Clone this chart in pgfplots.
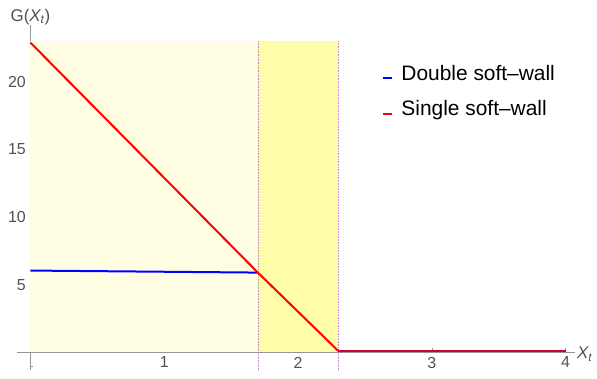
\documentclass[border=0pt]{standalone}
\usepackage{pgfplots}
\pgfplotsset{compat=1.18}
\usepackage{fontspec}
\setmainfont{Liberation Sans}
\definecolor{lightyel}{RGB}{255,253,226}
\definecolor{darkyel}{RGB}{255,252,170}
\definecolor{dashc}{RGB}{190,140,200}
\definecolor{axgray}{RGB}{150,150,150}
\definecolor{labgray}{RGB}{80,80,80}
\begin{document}
\begin{tikzpicture}
\begin{axis}[
  scale only axis,
  width=558bp, height=345bp,
  xmin=-0.1, xmax=4.07, ymin=-1.3, ymax=24.2,
  axis lines=middle,
  axis line style={axgray, line width=0.6pt, -},
  xtick={1,2,3,4}, ytick={5,10,15,20},
  minor xtick={0.2,0.4,...,4.0},
  minor ytick={-1,1,2,...,23},
  tick align=inside,
  major tick length=4bp, minor tick length=2.5bp,
  tick style={axgray, line width=0.5pt},
  every tick label/.append style={font=\fontsize{16}{18}\selectfont, text=labgray},
  /pgf/number format/assume math mode=true,
  xticklabel style={yshift=-1bp},
  yticklabel style={xshift=-1bp},
  xlabel={{\itshape X}\textsubscript{\itshape t}},
  ylabel={G({\itshape X}\textsubscript{\itshape t})},
  xlabel style={at={(axis cs:4.07,0)}, anchor=west, xshift=0bp, yshift=-2bp, inner sep=2bp, font=\fontsize{17}{18}\selectfont, text=labgray},
  ylabel style={at={(axis cs:0,24.2)}, anchor=south, xshift=0bp, yshift=-2bp, inner sep=2bp, font=\fontsize{17}{18}\selectfont, text=labgray},
  legend style={at={(rel axis cs:0.649,0.896)}, anchor=north west, draw=none, fill=none,
    font=\fontsize{21}{24}\selectfont, row sep=15bp},
  legend cell align=left,
  legend image code/.code={\draw[#1, line width=2.2bp] (0bp,-5bp) -- (9bp,-5bp); \path (15bp,0bp);},
  clip=false,
]
\addplot[fill=lightyel, draw=none, forget plot] coordinates {(0,0) (1.7,0) (1.7,23) (0,23)} -- cycle;
\addplot[fill=darkyel, draw=none, forget plot] coordinates {(1.7,0) (2.3,0) (2.3,23) (1.7,23)} -- cycle;
\addplot[dashc, densely dotted, line width=0.6pt, forget plot] coordinates {(1.7,-1.3) (1.7,23)};
\addplot[dashc, densely dotted, line width=0.6pt, forget plot] coordinates {(2.3,-1.3) (2.3,23)};
\addplot[blue, line width=2bp] coordinates {(0,6.05) (1.7,5.9)};
\addlegendentry{Double soft–wall}
\addplot[red, line width=2bp] coordinates {(0,22.9) (1.7,5.9) (2.3,0.12)};
\addlegendentry{Single soft–wall}
\addplot[blue, line width=2bp, forget plot] coordinates {(2.3,0.12) (4,0.12)};
\addplot[red, line width=2bp, opacity=0.8, forget plot] coordinates {(2.3,0.12) (4,0.12)};
\end{axis}
\pgfresetboundingbox
\path[use as bounding box] (current axis.south west) ++(-17bp,-9bp) rectangle ([xshift=22bp,yshift=25bp]current axis.north east);
\end{tikzpicture}
\end{document}
